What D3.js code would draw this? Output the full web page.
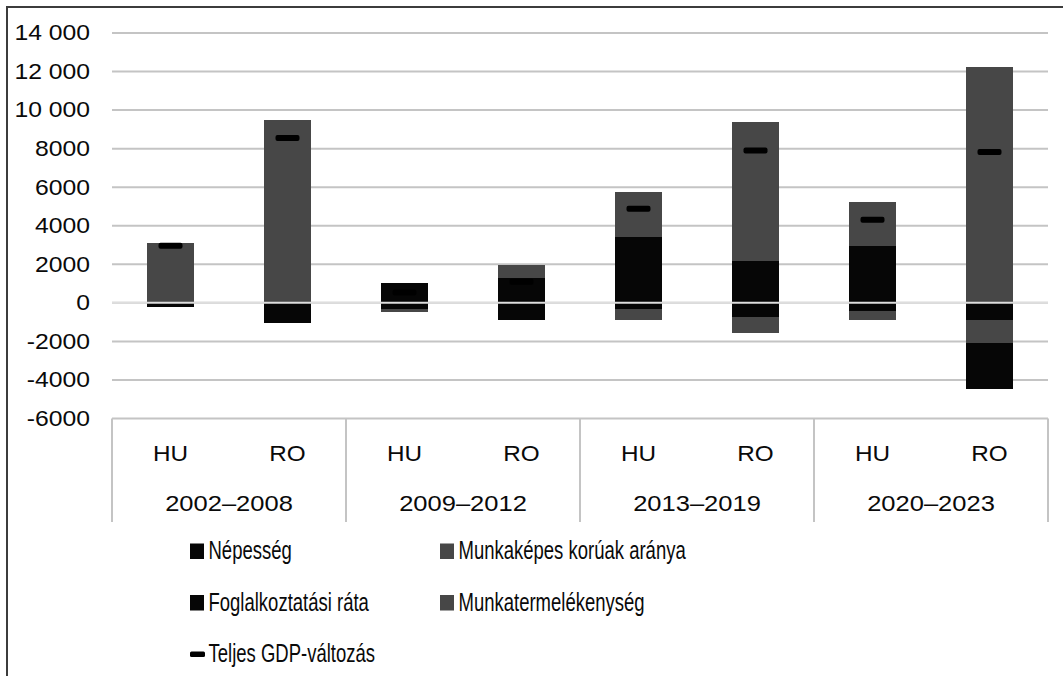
<!DOCTYPE html>
<html>
<head>
<meta charset="utf-8">
<script src="https://cdn.jsdelivr.net/npm/d3@7"></script>
<style>
  html, body { margin: 0; padding: 0; background: #fff; }
  svg { display: block; }
</style>
</head>
<body>
<div id="chart"></div>
<script>
// Adatok
const periods = ["2002–2008", "2009–2012", "2013–2019", "2020–2023"];
const countries = ["HU", "RO"];
const nepesseg       = [-200, -650, -300, -900, -330, -760, -415, -900];
const munkakepes     = [250, 400, -200, 0, -570, -780, -485, -1200];
const foglalkoztatas = [0, -370, 1020, 1310, 3440, 2150, 2925, -2380];
const termelekenyseg = [2870, 9100, 0, 660, 2320, 7250, 2305, 12230];
const gdpValtozas    = [2960, 8550, 540, 1090, 4880, 7910, 4310, 7830];
const yTicks = [-6000, -4000, -2000, 0, 2000, 4000, 6000, 8000, 10000, 12000, 14000];
const yTickLabels = ["-6000", "-4000", "-2000", "0", "2000", "4000", "6000", "8000", "10 000", "12 000", "14 000"];

const seriesNames = ["Népesség", "Munkaképes korúak aránya", "Foglalkoztatási ráta", "Munkatermelékenység"];
const seriesValues = [nepesseg, munkakepes, foglalkoztatas, termelekenyseg];
const gdpName = "Teljes GDP-változás";

const BLACK = "#060606";
const GRAY = "#474747";
const seriesColors = [BLACK, GRAY, BLACK, GRAY];
const GRID = "#c4c4c4";
const FONT = "'Liberation Sans', Arial, sans-serif";

const width = 1063, height = 676;
const plot = { left: 112, right: 1048, top: 33, bottom: 418.5 };

// táblázat a stackhez
const rows = [];
periods.forEach((p, i) => {
    countries.forEach((c, j) => {
        const k = i * countries.length + j;
        const row = { period: p, country: c, gdp: gdpValtozas[k] };
        seriesNames.forEach((s, si) => row[s] = seriesValues[si][k]);
        rows.push(row);
    });
});

const svg = d3.select("#chart").append("svg")
    .attr("width", width)
    .attr("height", height);

// keret
svg.append("path")
    .attr("d", `M7,${height} L7,7 L${width},7`)
    .attr("fill", "none")
    .attr("stroke", "#3c3c3c")
    .attr("stroke-width", 2);

const y = d3.scaleLinear().domain([-6000, 14000]).range([plot.bottom, plot.top]);
const x0 = d3.scaleBand().domain(periods).range([plot.left, plot.right]);
const x1 = d3.scaleBand().domain(countries).range([0, x0.bandwidth()])
    .paddingInner(0.6).paddingOuter(0.3);

// rácsvonalak
svg.append("g")
    .selectAll("line")
    .data(yTicks.filter(t => t > -6000))
    .enter()
    .append("line")
    .attr("x1", plot.left).attr("x2", plot.right)
    .attr("y1", d => y(d)).attr("y2", d => y(d))
    .attr("stroke", GRID)
    .attr("stroke-width", 2);

// vízszintes nyújtás a szövegekhez
function scaleText(sel, sx) {
    sel.each(function () {
        const t = d3.select(this);
        const tx = +t.attr("x") || 0;
        t.attr("x", 0).attr("transform", `translate(${tx},0) scale(${sx},1)`);
    });
}

const yAxis = svg.append("g")
    .attr("transform", `translate(${plot.left},0)`)
    .call(d3.axisLeft(y).tickValues(yTicks).tickSize(0).tickPadding(22)
        .tickFormat((d, i) => yTickLabels[i]));
yAxis.select(".domain").remove();
yAxis.selectAll("text")
    .attr("font-family", FONT)
    .attr("font-size", 21.5)
    .attr("fill", "#0a0a0a")
    .call(scaleText, 1.15);

// oszlopok
const stack = d3.stack().keys(seriesNames).offset(d3.stackOffsetDiverging);
const stacked = stack(rows);

const barX = d => x0(d.data.period) + x1(d.data.country);

svg.append("g")
    .attr("shape-rendering", "crispEdges")
    .selectAll("g")
    .data(stacked)
    .enter()
    .append("g")
    .attr("fill", (d, i) => seriesColors[i])
    .selectAll("rect")
    .data(d => d)
    .enter()
    .append("rect")
    .attr("x", barX)
    .attr("width", x1.bandwidth())
    .attr("y", d => y(d[1]))
    .attr("height", d => Math.abs(y(d[0]) - y(d[1])));

// nulla vonal a sávok fölött
svg.append("line")
    .attr("x1", plot.left).attr("x2", plot.right)
    .attr("y1", y(0)).attr("y2", y(0))
    .attr("stroke", "#dedede")
    .attr("stroke-width", 2);

// GDP-változás jelölő
const mw = 24, mh = 6;
svg.append("g")
    .selectAll("rect")
    .data(rows)
    .enter()
    .append("rect")
    .attr("x", d => x0(d.period) + x1(d.country) + x1.bandwidth() / 2 - mw / 2)
    .attr("y", d => y(d.gdp) - mh / 2)
    .attr("width", mw)
    .attr("height", mh)
    .attr("rx", 2)
    .attr("fill", "#000");

// kategória tengely (kétszintű)
const catAxis = svg.append("g");
catAxis.append("line")
    .attr("x1", plot.left).attr("x2", plot.right)
    .attr("y1", plot.bottom).attr("y2", plot.bottom)
    .attr("stroke", GRID).attr("stroke-width", 2);

catAxis.selectAll(".sep")
    .data([...periods.map(p => x0(p)), plot.right])
    .enter()
    .append("line")
    .attr("class", "sep")
    .attr("x1", d => d).attr("x2", d => d)
    .attr("y1", plot.bottom).attr("y2", 522)
    .attr("stroke", GRID).attr("stroke-width", 2);

catAxis.selectAll(".country")
    .data(rows)
    .enter()
    .append("text")
    .attr("class", "country")
    .attr("x", d => x0(d.period) + x1(d.country) + x1.bandwidth() / 2)
    .attr("y", 461.5)
    .attr("text-anchor", "middle")
    .attr("font-family", FONT)
    .attr("font-size", 22.5)
    .attr("fill", "#0a0a0a")
    .text(d => d.country)
    .call(scaleText, 1.08);

catAxis.selectAll(".period")
    .data(periods)
    .enter()
    .append("text")
    .attr("class", "period")
    .attr("x", d => x0(d) + x0.bandwidth() / 2)
    .attr("y", 511.5)
    .attr("text-anchor", "middle")
    .attr("font-family", FONT)
    .attr("font-size", 22)
    .attr("fill", "#0a0a0a")
    .text(d => d)
    .call(scaleText, 1.16);

// jelmagyarázat
const legendItems = [
    { name: seriesNames[0], color: seriesColors[0], col: 0, row: 0 },
    { name: seriesNames[1], color: seriesColors[1], col: 1, row: 0 },
    { name: seriesNames[2], color: seriesColors[2], col: 0, row: 1 },
    { name: seriesNames[3], color: seriesColors[3], col: 1, row: 1 },
    { name: gdpName, color: "#000", col: 0, row: 2, marker: true }
];
const legendCols = [190, 440];
const legendRows = [559, 610.5, 662];

const lg = svg.append("g")
    .selectAll("g")
    .data(legendItems)
    .enter()
    .append("g")
    .attr("transform", d => `translate(${legendCols[d.col]},${legendRows[d.row]})`);

lg.filter(d => !d.marker).append("rect")
    .attr("x", 0).attr("y", -15.5)
    .attr("width", 14).attr("height", 15.5)
    .attr("fill", d => d.color);

lg.filter(d => d.marker).append("rect")
    .attr("x", 0).attr("y", -10.5)
    .attr("width", 15).attr("height", 5.5)
    .attr("rx", 1.5)
    .attr("fill", "#000");

lg.append("text")
    .attr("x", 18.5)
    .attr("y", 0)
    .attr("font-family", FONT)
    .attr("font-size", 25)
    .attr("fill", "#0a0a0a")
    .text(d => d.name)
    .call(scaleText, 0.74);
</script>
</body>
</html>
